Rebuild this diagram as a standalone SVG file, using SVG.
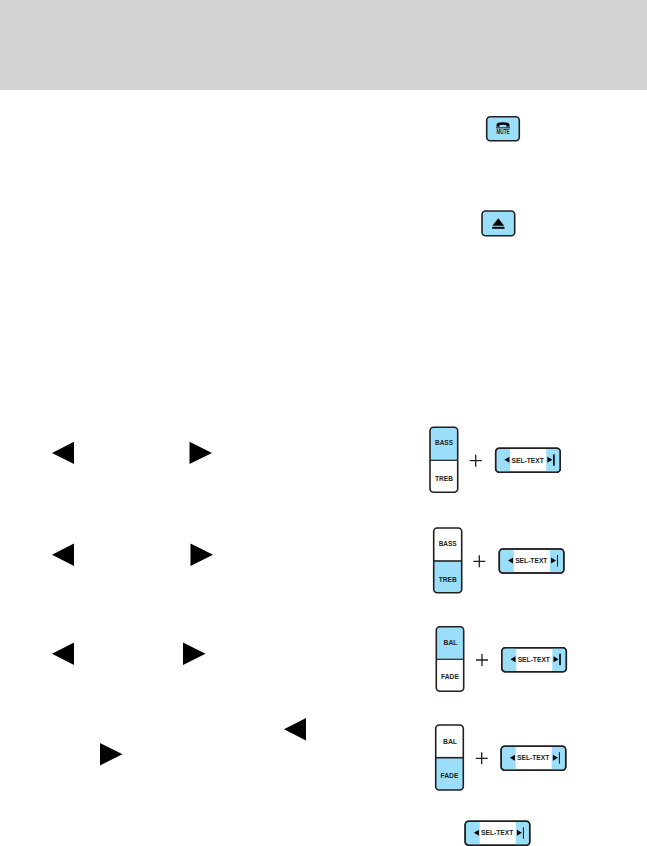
<svg xmlns="http://www.w3.org/2000/svg" width="647" height="846" viewBox="0 0 647 846">
<style>
.btn{fill:#fff;stroke:#231f20;stroke-width:1.5}
.frame{fill:none;stroke:#231f20;stroke-width:1.6}
.blue{fill:#9bdefa}
.ink{fill:#000}
.lbl{font-family:"Liberation Sans",Arial,sans-serif;font-weight:700;font-size:7.4px;fill:#231f20;text-anchor:middle}
.div{stroke:#231f20;stroke-width:1.2}
.plus{stroke:#231f20;stroke-width:1.3;fill:none}
</style>
<defs>
<g id="sel-base">
<rect class="btn" x="0" y="0" width="64.5" height="24" rx="3.5"/>
<path class="blue" d="M3 .8H14.5V23.2H3Q.8 23.2 .8 21V3Q.8 .8 3 .8Z"/>
<path class="blue" d="M50.5 .8H61.5Q63.7 .8 63.7 3V21Q63.7 23.2 61.5 23.2H50.5Z"/>
<rect class="frame" x="0" y="0" width="64.5" height="24" rx="3.5"/>
<path class="ink" d="M8.7 11.5L13.7 8.5V14.5Z"/>
<path class="ink" d="M51.7 8.5L56.7 11.5L51.7 14.5Z"/>
<text class="lbl" x="32" y="14.3" textLength="32.3" lengthAdjust="spacingAndGlyphs">SEL-TEXT</text>
</g>
<g id="sel-thick"><use href="#sel-base"/><rect class="ink" x="57.4" y="6" width="1.6" height="11.5"/></g>
<g id="sel-thin"><use href="#sel-base"/><rect class="ink" x="57.7" y="6" width="0.9" height="11.5"/></g>
<path id="tl" class="ink" d="M0 11.2L22 0V22.4Z"/>
<path id="tr" class="ink" d="M0 0L22.5 11.2L0 22.4Z"/>
<path id="plus" class="plus" d="M-6 0H6M0-6V6"/>
</defs>
<rect id="header" x="0" y="0" width="647" height="90" fill="#d3d3d3"/>
<g id="mute">
<rect class="blue" x="486.7" y="116.7" width="32.6" height="24" rx="3.5"/>
<rect class="frame" x="486.7" y="116.7" width="32.6" height="24" rx="3.5"/>
<path class="ink" d="M496.5 126.8V124.6Q497 122.3 503 122.3Q509 122.3 509.5 124.6V126.8H506.4V125Q503 124.3 499.6 125V126.8Z"/>
<rect class="ink" x="496" y="127.4" width="14" height="0.9"/>
<text class="lbl" x="503" y="134.4" style="font-size:7px" textLength="13" lengthAdjust="spacingAndGlyphs">MUTE</text>
</g>
<g id="eject">
<rect class="blue" x="482" y="211" width="32.7" height="24.7" rx="3.5"/>
<rect class="frame" x="482" y="211" width="32.7" height="24.7" rx="3.5"/>
<path class="ink" d="M498.3 218.2L504.2 225.8H492.4Z"/>
<rect class="ink" x="492.2" y="226.8" width="12.3" height="2"/>
</g>
<g id="row1-arrows"><use href="#tl" x="52" y="441.7"/><use href="#tr" x="189.5" y="441.7"/></g>
<g id="row2-arrows"><use href="#tl" x="52" y="543.5"/><use href="#tr" x="190.5" y="543.5"/></g>
<g id="row3-arrows"><use href="#tl" x="52" y="642.5"/><use href="#tr" x="183" y="642.5"/></g>
<g id="row4-arrows"><use href="#tl" x="284" y="718"/><use href="#tr" x="100" y="743"/></g>
<g id="bass-treb-1">
<path class="blue" d="M430 460.3V430Q430 427.3 433 427.3H454.7Q457.7 427.3 457.7 430V460.3Z"/>
<rect class="frame" x="430" y="427.3" width="27.7" height="65" rx="3.5"/>
<line class="div" x1="430" y1="460.3" x2="457.7" y2="460.3"/>
<text class="lbl" x="444" y="445.2" textLength="18" lengthAdjust="spacingAndGlyphs">BASS</text><text class="lbl" x="444" y="481" textLength="18" lengthAdjust="spacingAndGlyphs">TREB</text>
</g>
<g id="plus-1"><use href="#plus" x="475.7" y="460.7"/></g>
<g id="sel-1"><use href="#sel-thick" x="495.7" y="448.3"/></g>
<g id="bass-treb-2">
<path class="blue" d="M433.7 561H461.7V589.7Q461.7 592.7 458.7 592.7H436.7Q433.7 592.7 433.7 589.7Z"/>
<rect class="frame" x="433.7" y="528" width="28" height="64.7" rx="3.5"/>
<line class="div" x1="433.7" y1="561" x2="461.7" y2="561" style="stroke-width:1.6"/>
<text class="lbl" x="447.7" y="546" textLength="18" lengthAdjust="spacingAndGlyphs">BASS</text><text class="lbl" x="447.7" y="581.8" textLength="18" lengthAdjust="spacingAndGlyphs">TREB</text>
</g>
<g id="plus-2"><use href="#plus" x="479.3" y="561.3"/></g>
<g id="sel-2"><use href="#sel-thin" x="499.3" y="549"/></g>
<g id="bal-fade-1">
<path class="blue" d="M436.3 659.3V629.7Q436.3 626.7 439.3 626.7H460.7Q463.7 626.7 463.7 629.7V659.3Z"/>
<rect class="frame" x="436.3" y="626.7" width="27.4" height="64.6" rx="3.5"/>
<line class="div" x1="436.3" y1="659.3" x2="463.7" y2="659.3"/>
<text class="lbl" x="450.5" y="645.3" textLength="14" lengthAdjust="spacingAndGlyphs">BAL</text><text class="lbl" x="450" y="679.3" textLength="18" lengthAdjust="spacingAndGlyphs">FADE</text>
</g>
<g id="plus-3"><use href="#plus" x="482" y="660"/></g>
<g id="sel-3"><use href="#sel-thick" x="501.8" y="647.7"/></g>
<g id="bal-fade-2">
<path class="blue" d="M435.7 757.7H463.3V787Q463.3 790 460.3 790H438.7Q435.7 790 435.7 787Z"/>
<rect class="frame" x="435.7" y="725" width="27.6" height="65" rx="3.5"/>
<line class="div" x1="435.7" y1="757.7" x2="463.3" y2="757.7" style="stroke-width:1.6"/>
<text class="lbl" x="450" y="744" textLength="14" lengthAdjust="spacingAndGlyphs">BAL</text><text class="lbl" x="449.5" y="778" textLength="18" lengthAdjust="spacingAndGlyphs">FADE</text>
</g>
<g id="plus-4"><use href="#plus" x="481.7" y="758.3"/></g>
<g id="sel-4"><use href="#sel-thin" x="501.2" y="746.2"/></g>
<g id="sel-5"><use href="#sel-thin" x="465.2" y="821.2"/></g>
</svg>
